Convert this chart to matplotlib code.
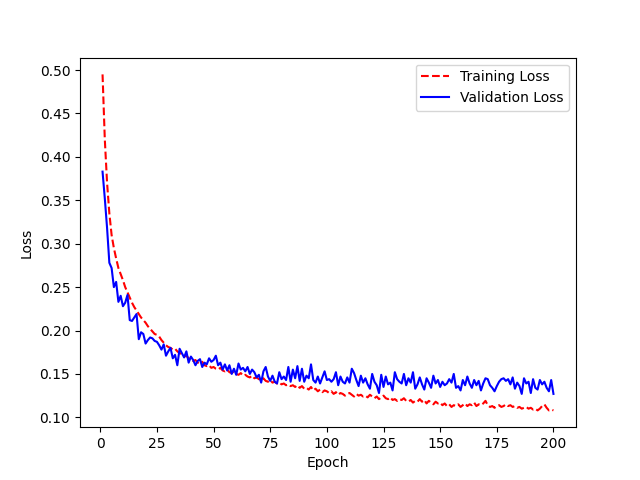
import numpy as np
import matplotlib
matplotlib.use("Agg")
import matplotlib.pyplot as plt

epochs = np.arange(1, 201)

train_loss = [
    0.495, 0.420, 0.370, 0.335, 0.310, 0.295, 0.283, 0.272, 0.265, 0.258,
    0.250, 0.244, 0.238, 0.232, 0.227, 0.223, 0.219, 0.215, 0.212, 0.209,
    0.205, 0.202, 0.199, 0.196, 0.195, 0.193, 0.189, 0.186, 0.183, 0.181,
    0.180, 0.178, 0.179, 0.176, 0.174, 0.173, 0.170, 0.171, 0.168, 0.167,
    0.165, 0.166, 0.163, 0.162, 0.164, 0.160, 0.159, 0.160, 0.157, 0.158,
    0.156, 0.155, 0.157, 0.154, 0.153, 0.155, 0.152, 0.151, 0.153, 0.150,
    0.149, 0.151, 0.148, 0.149, 0.147, 0.146, 0.148, 0.145, 0.146, 0.144,
    0.143, 0.145, 0.142, 0.141, 0.143, 0.140, 0.141, 0.139, 0.140, 0.138,
    0.139, 0.137, 0.138, 0.136, 0.137, 0.135, 0.137, 0.134, 0.136, 0.133,
    0.134, 0.132, 0.135, 0.131, 0.133, 0.130, 0.132, 0.129, 0.131, 0.130,
    0.128, 0.130, 0.127, 0.129, 0.126, 0.128, 0.127, 0.125, 0.127, 0.128,
    0.126, 0.124, 0.127, 0.125, 0.126, 0.124, 0.125, 0.123, 0.126, 0.124,
    0.122, 0.124, 0.121, 0.123, 0.125, 0.122, 0.121, 0.123, 0.120, 0.121,
    0.119, 0.121, 0.120, 0.122, 0.119, 0.118, 0.120, 0.117, 0.119, 0.118,
    0.121, 0.118, 0.120, 0.116, 0.119, 0.117, 0.115, 0.118, 0.116, 0.117,
    0.114, 0.116, 0.113, 0.115, 0.112, 0.114, 0.113, 0.115, 0.112, 0.114,
    0.116, 0.113, 0.115, 0.114, 0.117, 0.113, 0.115, 0.114, 0.116, 0.119,
    0.114, 0.112, 0.113, 0.111, 0.113, 0.114, 0.112, 0.113, 0.115, 0.113,
    0.114, 0.112, 0.113, 0.111, 0.112, 0.110, 0.111, 0.112, 0.110, 0.111,
    0.109, 0.110, 0.108, 0.110, 0.113, 0.115, 0.111, 0.108, 0.109, 0.108,
]

val_loss = [
    0.383, 0.352, 0.318, 0.278, 0.272, 0.250, 0.256, 0.233, 0.240, 0.228,
    0.232, 0.241, 0.212, 0.211, 0.215, 0.219, 0.190, 0.198, 0.196, 0.185,
    0.189, 0.192, 0.191, 0.188, 0.187, 0.183, 0.178, 0.184, 0.171, 0.176,
    0.180, 0.168, 0.172, 0.160, 0.179, 0.174, 0.169, 0.176, 0.163, 0.170,
    0.166, 0.160, 0.165, 0.167, 0.158, 0.163, 0.161, 0.168, 0.164, 0.166,
    0.171, 0.160, 0.163, 0.155, 0.161, 0.154, 0.160, 0.150, 0.156, 0.149,
    0.162, 0.155, 0.157, 0.153, 0.158, 0.150, 0.155, 0.152, 0.146, 0.149,
    0.140, 0.153, 0.158, 0.147, 0.142, 0.148, 0.141, 0.139, 0.152, 0.144,
    0.147, 0.143, 0.158, 0.141, 0.155, 0.145, 0.159, 0.142, 0.156, 0.141,
    0.148, 0.145, 0.161, 0.143, 0.140, 0.147, 0.139, 0.146, 0.153, 0.143,
    0.144, 0.141, 0.144, 0.152, 0.137, 0.147, 0.141, 0.139, 0.146, 0.140,
    0.156, 0.151, 0.143, 0.136, 0.148, 0.140, 0.145, 0.138, 0.133, 0.150,
    0.141, 0.137, 0.128, 0.149, 0.135, 0.147, 0.138, 0.140, 0.131, 0.152,
    0.144, 0.141, 0.139, 0.150, 0.137, 0.145, 0.140, 0.152, 0.133, 0.138,
    0.146, 0.138, 0.132, 0.145, 0.140, 0.134, 0.148, 0.139, 0.143, 0.135,
    0.141, 0.137, 0.139, 0.144, 0.140, 0.150, 0.134, 0.136, 0.131, 0.143,
    0.137, 0.147, 0.139, 0.134, 0.143, 0.137, 0.142, 0.131, 0.139, 0.145,
    0.144, 0.137, 0.134, 0.130, 0.136, 0.141, 0.144, 0.145, 0.142, 0.144,
    0.138, 0.146, 0.133, 0.140, 0.136, 0.127, 0.145, 0.139, 0.141, 0.128,
    0.144, 0.134, 0.132, 0.143, 0.138, 0.141, 0.134, 0.130, 0.143, 0.127,
]

fig, ax = plt.subplots(figsize=(6.4, 4.8), dpi=100)
ax.plot(epochs, train_loss, 'r--', label='Training Loss')
ax.plot(epochs, val_loss, 'b-', label='Validation Loss')
ax.set_xlabel('Epoch')
ax.set_ylabel('Loss')
ax.legend()
plt.savefig('out.png', dpi=100)
